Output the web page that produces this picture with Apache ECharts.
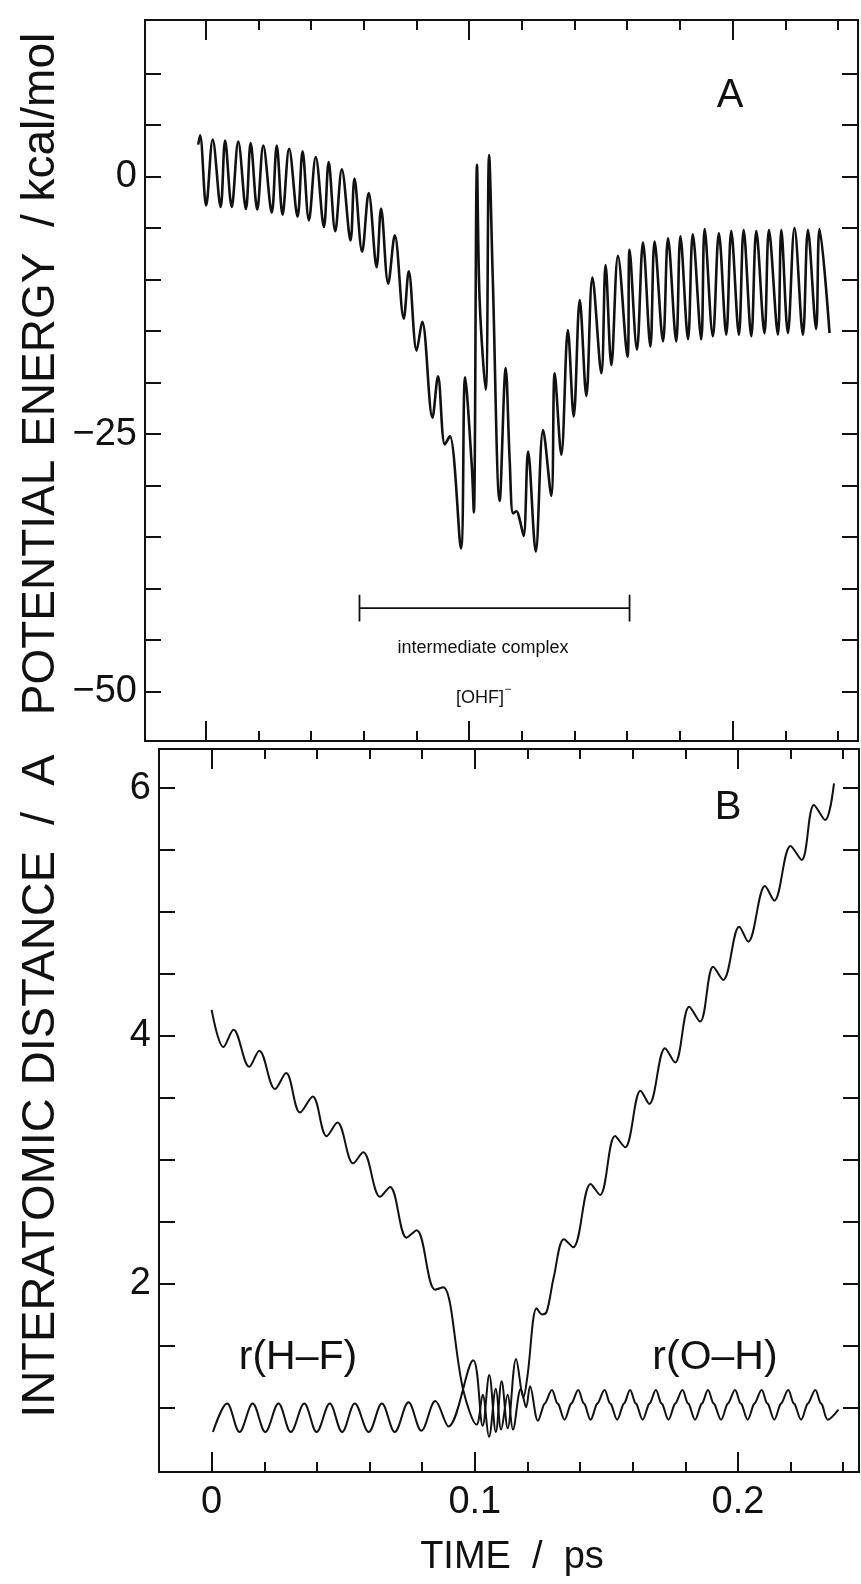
<!DOCTYPE html>
<html><head><meta charset="utf-8">
<script src="https://cdn.jsdelivr.net/npm/echarts@6/dist/echarts.min.js"></script>
<style>html,body{margin:0;padding:0;background:#fff}#c{width:861px;height:1584px}</style>
</head><body><div id="c"></div><script>
// ---------- data ----------
// Panel A: potential energy (kcal/mol) vs time (ps)
const peTime = [-0.0028,-0.0021,0.0002,0.0027,0.0057,0.0074,0.0099,0.0124,0.0153,0.0171,0.0196,0.0219,0.0251,0.0270,0.0292,0.0317,0.0349,0.0368,0.0392,0.0418,0.0449,0.0467,0.0492,0.0517,0.0550,0.0565,0.0594,0.0619,0.0649,0.0666,0.0693,0.0718,0.0752,0.0771,0.0801,0.0822,
 0.0861,0.0882,0.0908,0.0927,0.0969,0.0985,0.1010,0.1018,0.1030,0.1040,0.1063,0.1076,0.1090,0.1116,0.1139,0.1154,0.1167,0.1180,0.1192,0.1207,0.1224,0.1253,0.1281,0.1312,0.1325,0.1350,0.1375,0.1397,0.1420,0.1445,0.1468,0.1502,0.1518,0.1540,0.1565,0.1601,0.1609,0.1637,0.1660,0.1688,0.1704,0.1736,0.1755,0.1786,0.1802,0.1831,0.1849,
 0.1881,0.1894,0.1925,0.1948,0.1976,0.1995,0.2024,0.2042,0.2071,0.2090,0.2121,0.2138,0.2172,0.2185,0.2210,0.2235,0.2267,0.2286,0.2317,0.2330,0.2368];
const peEnergy = [3.1,4.0,-2.8,3.6,-2.95,3.5,-2.95,3.4,-3.15,3.25,-3.2,3.0,-3.5,3.0,-3.7,2.7,-3.9,2.45,-4.25,1.9,-4.9,1.4,-5.3,0.7,-6.2,-0.2,-7.3,-1.6,-8.8,-3.1,-10.4,-5.7,-13.8,-9.2,-16.9,-14.1,
 -23.4,-19.4,-26.0,-25.2,-36.1,-19.5,-28.0,-32.6,1.15,-12.0,-20.7,2.1,-10.0,-31.5,-18.6,-27.5,-32.7,-32.5,-33.3,-34.9,-26.7,-36.4,-24.6,-31.0,-19.1,-27.0,-14.9,-23.3,-12.0,-21.3,-9.8,-19.1,-8.6,-18.3,-7.7,-17.5,-7.1,-16.8,-6.4,-16.5,-6.3,-16.0,-6.0,-16.0,-5.8,-15.8,-5.6,
 -15.8,-5.1,-15.5,-5.5,-15.35,-5.3,-15.35,-5.2,-15.5,-5.3,-15.2,-5.2,-15.35,-5.2,-15.2,-5.0,-15.35,-5.2,-14.8,-5.1,-15.2];
// intermediate-complex bracket (time span and energy level)
const bracketTime = [0.0584, 0.1609];
const bracketLevel = -41.9;
const bracketCap = [-40.6, -43.2];

// Panel B: interatomic distances (A) vs time (ps)
const hfTime = [0.0005,0.0059,0.0106,0.0156,0.0204,0.0254,0.0301,0.0352,0.0399,0.0449,0.0496,0.0544,0.0597,0.0647,0.0696,0.0748,0.0797,0.0850,0.0900,0.0994,0.1030,0.1055,0.1080,0.1102,0.1125,0.1157,0.1185,0.1200,0.1235,0.1255,0.1273,0.1300,0.1339,0.1374,0.1440,0.1476,0.1533,0.1571,0.1630,0.1663,0.1723,0.1761,0.1815,0.1856,0.1906,0.1944,0.2005,0.2039,0.2103,0.2138,0.2200,0.2242,0.2289,0.2331,0.2365];
const hfDist = [0.80,1.03,0.80,1.03,0.80,1.03,0.80,1.03,0.80,1.03,0.80,1.03,0.80,1.03,0.80,1.04,0.81,1.05,0.845,1.38,0.85,1.26,0.80,1.21,0.83,1.39,1.08,1.25,1.80,1.75,1.77,2.05,2.357,2.292,2.804,2.715,3.191,3.100,3.557,3.450,3.900,3.784,4.236,4.115,4.559,4.452,4.882,4.761,5.211,5.092,5.534,5.421,5.865,5.744,6.04];
const ohTime = [0.0000,0.0045,0.0083,0.0143,0.0181,0.0241,0.0283,0.0336,0.0384,0.0437,0.0478,0.0538,0.0576,0.0640,0.0678,0.0741,0.0779,0.0849,0.0880,0.0956,0.1007,0.1030,0.1054,0.1080,0.1100,0.1125,0.1145,0.1175,0.1195,0.1210,
 0.1240,0.1262,0.1270,0.1293,0.1311,0.1319,0.1341,0.1363,0.1371,0.1393,0.1411,0.1419,0.1440,0.1462,0.1470,0.1493,0.1511,0.1519,0.1541,0.1563,0.1571,0.1590,0.1608,0.1616,
 0.1638,0.1660,0.1668,0.1688,0.1706,0.1714,0.1736,0.1758,0.1766,0.1789,0.1807,0.1815,0.1837,0.1859,0.1867,0.1886,0.1904,0.1912,0.1936,0.1958,0.1966,0.1989,0.2007,0.2015,
 0.2037,0.2059,0.2067,0.2090,0.2108,0.2116,0.2138,0.2160,0.2168,0.2191,0.2209,0.2217,0.2240,0.2262,0.2270,0.2294,0.2312,0.2320,0.2342,0.2382];
const ohDist = [4.21,3.91,4.05,3.75,3.88,3.57,3.70,3.38,3.51,3.19,3.30,2.97,3.06,2.70,2.78,2.37,2.43,1.95,1.97,1.14,0.86,1.10,0.76,1.15,0.82,1.10,0.82,1.15,1.00,1.17,
 0.89,1.02,1.04,1.14,1.04,1.02,0.90,1.02,1.04,1.14,1.04,1.02,0.90,1.02,1.04,1.14,1.04,1.02,0.90,1.02,1.04,1.14,1.04,1.02,
 0.90,1.02,1.04,1.14,1.04,1.02,0.90,1.02,1.04,1.14,1.04,1.02,0.90,1.02,1.04,1.14,1.04,1.02,0.90,1.02,1.04,1.14,1.04,1.02,
 0.90,1.02,1.04,1.14,1.04,1.02,0.90,1.02,1.04,1.14,1.04,1.02,0.90,1.02,1.04,1.14,1.04,1.02,0.90,0.98];

// axis ticks / labels
const timeMajor = [0, 0.1, 0.2];
const timeMinor = [0.02,0.04,0.06,0.08,0.12,0.14,0.16,0.18,0.22,0.24];
const energyTicks = [-50,-45,-40,-35,-30,-25,-20,-15,-10,-5,0,5,10];
const energyLabels = [-50,-25,0];
const distTicks = [1,1.5,2,2.5,3,3.5,4,4.5,5,5.5,6];
const distLabels = [2,4,6];

// ---------- chart ----------
const FONT = '"Liberation Sans", Arial, Helvetica, sans-serif';
const INK = '#111';
const zip = (a, b) => a.map((v, i) => [v, b[i]]);
const minus = v => (v < 0 ? '\u2212' + (-v) : String(v));

const xA = {min: -0.0230, max: 0.2476};
const xB = {min: -0.0200, max: 0.2460};
const yA = {min: -54.8, max: 15.2};
const yB = {min: 0.477, max: 6.317};

function xAx(grid, r, pos, vals, len, showLine, labels) {
  return {
    type: 'value', gridIndex: grid, position: pos, min: r.min, max: r.max,
    axisLine: {show: showLine, onZero: false, lineStyle: {color: INK, width: 2}},
    axisTick: {show: true, inside: true, length: len, customValues: vals, lineStyle: {color: INK, width: 2}},
    axisLabel: labels ? {show: true, customValues: timeMajor, color: INK, fontFamily: FONT, fontSize: 38, margin: 12,
      formatter: v => String(+v.toFixed(2))} : {show: false},
    splitLine: {show: false}
  };
}
function yAx(grid, r, pos, vals, labelVals, fmt) {
  return {
    type: 'value', gridIndex: grid, position: pos, min: r.min, max: r.max,
    axisLine: {show: true, onZero: false, lineStyle: {color: INK, width: 2}},
    axisTick: {show: true, inside: true, length: 16, customValues: vals, lineStyle: {color: INK, width: 2}},
    axisLabel: labelVals ? {show: true, customValues: labelVals, color: INK, fontFamily: FONT, fontSize: 38, margin: 8, formatter: fmt} : {show: false},
    splitLine: {show: false}
  };
}

const chart = echarts.init(document.getElementById('c'), null, {renderer: 'canvas'});
chart.setOption({
  animation: false,
  backgroundColor: '#fff',
  grid: [
    {left: 145, top: 20, width: 713, height: 721},
    {left: 159, top: 749, width: 700, height: 723}
  ],
  xAxis: [
    xAx(0, xA, 'bottom', timeMajor, 20, true, false),
    xAx(0, xA, 'bottom', timeMinor, 10, false, false),
    xAx(0, xA, 'top', timeMajor, 20, true, false),
    xAx(0, xA, 'top', timeMinor, 10, false, false),
    xAx(1, xB, 'bottom', timeMajor, 20, true, true),
    xAx(1, xB, 'bottom', timeMinor, 10, false, false),
    xAx(1, xB, 'top', timeMajor, 20, true, false),
    xAx(1, xB, 'top', timeMinor, 10, false, false)
  ],
  yAxis: [
    yAx(0, yA, 'left', energyTicks, energyLabels, minus),
    yAx(0, yA, 'right', energyTicks, null),
    yAx(1, yB, 'left', distTicks, distLabels, v => String(v)),
    yAx(1, yB, 'right', distTicks, null)
  ],
  series: [
    {type: 'line', xAxisIndex: 0, yAxisIndex: 0, data: zip(peTime, peEnergy), showSymbol: false, smooth: 0.35,
     lineStyle: {color: INK, width: 2.6}},
    {type: 'line', xAxisIndex: 0, yAxisIndex: 0, showSymbol: false,
     data: [[bracketTime[0], bracketCap[0]], [bracketTime[0], bracketCap[1]], [bracketTime[0], bracketLevel],
            [bracketTime[1], bracketLevel], [bracketTime[1], bracketCap[0]], [bracketTime[1], bracketCap[1]]],
     lineStyle: {color: INK, width: 1.8}},
    {type: 'line', xAxisIndex: 4, yAxisIndex: 2, data: zip(hfTime, hfDist), showSymbol: false, smooth: 0.35,
     lineStyle: {color: INK, width: 2}},
    {type: 'line', xAxisIndex: 4, yAxisIndex: 2, data: zip(ohTime, ohDist), showSymbol: false, smooth: 0.35,
     lineStyle: {color: INK, width: 2}}
  ],
  graphic: [
    {type: 'text', x: 730, y: 96, style: {text: 'A', font: '40px ' + FONT, fill: INK, textAlign: 'center', textVerticalAlign: 'middle', align: 'center', verticalAlign: 'middle'}},
    {type: 'text', x: 728, y: 808, style: {text: 'B', font: '40px ' + FONT, fill: INK, textAlign: 'center', textVerticalAlign: 'middle', align: 'center', verticalAlign: 'middle'}},
    {type: 'text', x: 483, y: 648, style: {text: 'intermediate complex', font: '18px ' + FONT, fill: INK, textAlign: 'center', textVerticalAlign: 'middle', align: 'center', verticalAlign: 'middle'}},
    {type: 'text', x: 480, y: 698, style: {text: '[OHF]', font: '18px ' + FONT, fill: INK, textAlign: 'center', textVerticalAlign: 'middle', align: 'center', verticalAlign: 'middle'}},
    {type: 'text', x: 508, y: 690, style: {text: '\u2212', font: '12px ' + FONT, fill: INK, textAlign: 'center', textVerticalAlign: 'middle', align: 'center', verticalAlign: 'middle'}},
    {type: 'text', x: 298, y: 1358, style: {text: 'r(H\u2013F)', font: '41px ' + FONT, fill: INK, textAlign: 'center', textVerticalAlign: 'middle', align: 'center', verticalAlign: 'middle'}},
    {type: 'text', x: 715, y: 1358, style: {text: 'r(O\u2013H)', font: '41px ' + FONT, fill: INK, textAlign: 'center', textVerticalAlign: 'middle', align: 'center', verticalAlign: 'middle'}},
    {type: 'text', x: 41, y: 374, rotation: Math.PI / 2, style: {text: 'POTENTIAL ENERGY  / kcal/mol', font: '46px ' + FONT, fill: INK, textAlign: 'center', textVerticalAlign: 'middle', align: 'center', verticalAlign: 'middle'}},
    {type: 'text', x: 41, y: 1086, rotation: Math.PI / 2, style: {text: 'INTERATOMIC DISTANCE  /  A', font: '47px ' + FONT, fill: INK, textAlign: 'center', textVerticalAlign: 'middle', align: 'center', verticalAlign: 'middle'}},
    {type: 'text', x: 512, y: 1558, style: {text: 'TIME  /  ps', font: '38px ' + FONT, fill: INK, textAlign: 'center', textVerticalAlign: 'middle', align: 'center', verticalAlign: 'middle'}}
  ]
});
</script></body></html>
